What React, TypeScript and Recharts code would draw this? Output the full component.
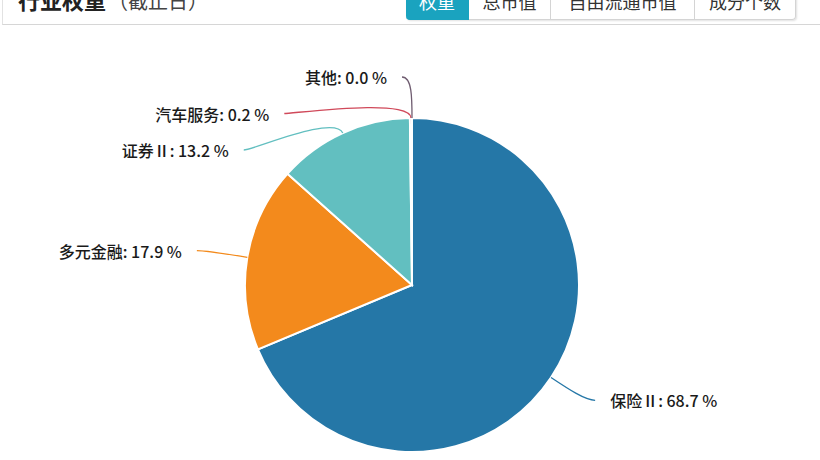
import { PieChart, Pie, Cell } from 'recharts';

// industry weights (percent)
const industries = ['保险Ⅱ', '多元金融', '证券Ⅱ', '汽车服务', '其他'];
const weights = [68.7, 17.9, 13.2, 0.2, 0.0];
const colors = ['#2577a7', '#f38a1c', '#62bfc0', '#d0495a', '#6f5c70'];

const tabs = ['权重', '总市值', '自由流通市值', '成分个数'];
const tabWidths = [63, 82, 144, 101];

const chartData = industries.map((name, i) => ({ name, value: weights[i] }));

const FONT = '"Noto Sans CJK SC", "Noto Sans", sans-serif';
const LEN1 = 41;
const LEN2 = 10;
const GAP = 36.5;

// echarts-like label layout: radial + horizontal line, labels pushed apart per side
function layoutLabels(cx: number, cy: number, r: number) {
  const total = weights.reduce((a, b) => a + b, 0);
  const rA = r + LEN1;
  let cum = 0;
  const items = weights.map((v, i) => {
    const mid = 90 - (360 * (cum + v / 2)) / total;
    cum += v;
    const rad = (mid * Math.PI) / 180;
    const cos = Math.cos(rad);
    const sin = Math.sin(rad);
    return {
      i,
      cos,
      sin,
      side: cos > 0.001 ? 1 : -1,
      y: cy - rA * sin,
      ex: cx + r * cos,
      ey: cy - r * sin,
    };
  });
  [1, -1].forEach((side) => {
    const list = items.filter((it) => it.side === side).sort((a, b) => a.y - b.y);
    for (let k = 1; k < list.length; k++) {
      if (list[k].y < list[k - 1].y + GAP) list[k].y = list[k - 1].y + GAP;
    }
  });
  return items.map((it) => {
    const dy = Math.abs(it.y - cy);
    const dx = dy < rA ? Math.sqrt(rA * rA - dy * dy) : 0;
    const bx = cx + it.side * dx;
    return { ...it, bx, lx: bx + it.side * LEN2 };
  });
}

const renderLabel = (props: any) => {
  const { cx, cy, outerRadius, index } = props;
  const it = layoutLabels(cx, cy, outerRadius)[index];
  const c1x = it.ex + it.cos * LEN1 * 0.5;
  const c1y = it.ey - it.sin * LEN1 * 0.5;
  const d = `M${it.ex},${it.ey} C${c1x},${c1y} ${it.bx},${it.y} ${it.lx},${it.y}`;
  return (
    <g key={`lbl-${index}`}>
      <path d={d} fill="none" stroke={colors[index]} strokeWidth={1.3} />
      <text
        x={it.lx + it.side * 15}
        y={it.y}
        textAnchor={it.side > 0 ? 'start' : 'end'}
        dominantBaseline="central"
        fontSize={16}
        fontWeight={500}
        fill="#1a1a1a"
        fontFamily={FONT}
      >
        {`${industries[index]}: ${weights[index].toFixed(1)} %`}
      </text>
    </g>
  );
};

export default function App() {
  return (
    <div
      style={{
        position: 'absolute',
        left: 0,
        top: 0,
        width: 820,
        height: 460,
        background: '#fff',
        overflow: 'hidden',
        fontFamily: FONT,
      }}
    >
      {/* header strip, mostly cut off at the top */}
      <div
        style={{
          position: 'absolute',
          left: 2,
          top: -40,
          width: 830,
          height: 65,
          borderLeft: '1px solid #e2e2e2',
          borderBottom: '1px solid #d6d6d6',
          boxSizing: 'border-box',
        }}
      />
      <div
        style={{
          position: 'absolute',
          left: 18,
          top: -15,
          lineHeight: '28px',
          whiteSpace: 'nowrap',
          color: '#222',
        }}
      >
        <span style={{ fontSize: 22, fontWeight: 700 }}>行业权重</span>
        <span style={{ fontSize: 20, color: '#444', marginLeft: 2 }}>（截止日）</span>
      </div>
      <div
        style={{
          position: 'absolute',
          left: 406,
          top: -20,
          height: 40,
          display: 'flex',
          boxShadow: '1px 1px 2px rgba(0,0,0,0.12)',
          borderRadius: '0 0 4px 4px',
        }}
      >
        {tabs.map((t, i) => (
          <div
            key={t}
            style={{
              width: tabWidths[i],
              height: 40,
              lineHeight: '40px',
              textAlign: 'center',
              fontSize: 18,
              boxSizing: 'border-box',
              background: i === 0 ? '#1aa3bf' : '#fff',
              color: i === 0 ? '#fff' : '#333',
              border: i === 0 ? '1px solid #1aa3bf' : '1px solid #d4d4d4',
              borderLeft: i > 1 ? 'none' : undefined,
              borderRadius:
                i === 0 ? '0 0 0 4px' : i === tabs.length - 1 ? '0 0 4px 0' : 0,
            }}
          >
            {t}
          </div>
        ))}
      </div>
      <div style={{ position: 'absolute', left: 0, top: 0 }}>
        <PieChart width={820} height={460} margin={{ top: 0, right: 0, bottom: 0, left: 0 }}>
          <Pie
            data={chartData}
            dataKey="value"
            nameKey="name"
            cx={412}
            cy={285}
            outerRadius={167}
            startAngle={90}
            endAngle={-270}
            stroke="#fff"
            strokeWidth={2}
            label={renderLabel}
            labelLine={false}
            isAnimationActive={false}
          >
            {chartData.map((d, i) => (
              <Cell key={d.name} fill={colors[i]} />
            ))}
          </Pie>
        </PieChart>
      </div>
    </div>
  );
}
